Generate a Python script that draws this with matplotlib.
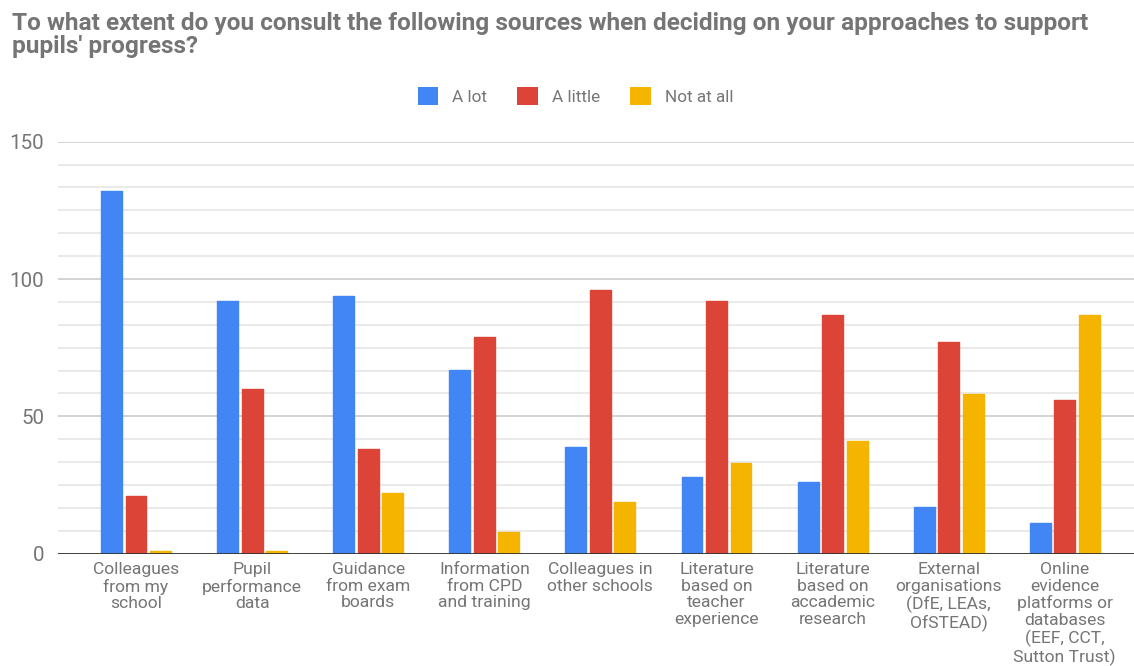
import matplotlib
matplotlib.use("Agg")
import matplotlib.pyplot as plt
import numpy as np
from matplotlib.patches import Patch

plt.rcParams['font.family'] = ['Roboto', 'DejaVu Sans']

# data
categories = [
    'Colleagues\nfrom my\nschool',
    'Pupil\nperformance\ndata',
    'Guidance\nfrom exam\nboards',
    'Information\nfrom CPD\nand training',
    'Colleagues in\nother schools',
    'Literature\nbased on\nteacher\nexperience',
    'Literature\nbased on\naccademic\nresearch',
    'External\norganisations\n(DfE, LEAs,\nOfSTEAD)',
    'Online\nevidence\nplatforms or\ndatabases\n(EEF, CCT,\nSutton Trust)',
]
a_lot = [132, 92, 94, 67, 39, 28, 26, 17, 11]
a_little = [21, 60, 38, 79, 96, 92, 87, 77, 56]
not_at_all = [1, 1, 22, 8, 19, 33, 41, 58, 87]
series_names = ['A lot', 'A little', 'Not at all']
colors = ['#4285F4', '#DB4437', '#F4B400']
grey = '#757575'

fig = plt.figure(figsize=(11.34, 6.66), dpi=100)
ax = fig.add_axes([58 / 1134, 1 - 553.7 / 666, 1 - 58 / 1134, (553.7 - 141.7) / 666])

x = np.arange(len(categories))
width = 0.18
step = 0.211
for i, (vals, col) in enumerate(zip([a_lot, a_little, not_at_all], colors)):
    bars = ax.bar(x + (i - 1) * step, vals, width, color=col, zorder=3)
    # round the corners a little, like the original
    for b in bars:
        b.set_joinstyle('round')
        b.set_edgecolor(col)
        b.set_linewidth(1.0)

ax.set_xlim(-0.672, 8.596)
ax.set_ylim(0, 150)

# gridlines: majors every 50, minors every 50/6
ax.set_yticks([0, 50, 100, 150])
ax.set_yticks(np.linspace(0, 150, 19), minor=True)
ax.grid(axis='y', which='major', color='#cccccc', lw=1.2, zorder=0)
ax.grid(axis='y', which='minor', color='#e6e6e6', lw=1.2, zorder=0)
ax.axhline(0, color='#333333', lw=2, zorder=4)

for s in ax.spines.values():
    s.set_visible(False)

ax.tick_params(axis='y', which='both', length=0, pad=10, labelsize=14.8, labelcolor=grey)
ax.set_xticks(x)
ax.set_xticklabels(categories, fontsize=12.6, color=grey, linespacing=1.13)
ax.tick_params(axis='x', length=0, pad=6)

fig.text(12 / 1134, 1 - 12 / 666,
         "To what extent do you consult the following sources when deciding on your approaches to support\npupils' progress?",
         fontsize=17.55, fontweight='bold', color=grey, va='top', ha='left', linespacing=0.98)

handles = [Patch(facecolor=c, edgecolor='none') for c in colors]
fig.legend(handles, series_names, loc='center', bbox_to_anchor=(575.5 / 1134, 1 - 96 / 666),
           ncol=3, frameon=False, fontsize=12.3, labelcolor=grey,
           handlelength=1.2, handleheight=1.2, handletextpad=0.84, columnspacing=1.75)

fig.savefig('out.png', dpi=100)
